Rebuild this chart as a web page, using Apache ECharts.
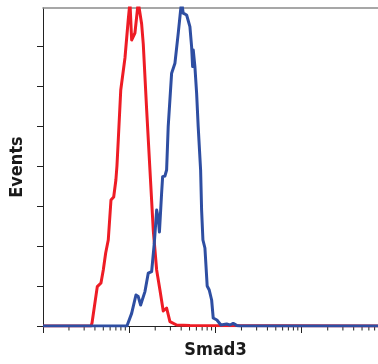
<!DOCTYPE html>
<html>
<head>
<meta charset="utf-8">
<script src="https://cdn.jsdelivr.net/npm/echarts@6/dist/echarts.min.js"></script>
<style>html,body{margin:0;padding:0;background:#fff}#c{width:378px;height:364px}</style>
</head>
<body>
<div id="c"></div>
<script>
// Axis titles
const xTitle = 'Smad3';
const yTitle = 'Events';

// Red histogram (control): fluorescence intensity and event counts
const redIntensity = [1, 3.6, 3.7, 4.26, 4.7, 5.0, 5.33, 5.71, 6.14, 6.6, 7.0, 7.2, 7.46, 7.97, 8.92, 9.73, 10.19, 10.66, 11.64, 12.71, 13.92, 14.54, 15.92, 17.38, 18.98, 20.78, 22.69, 24.78, 27.11, 29.63, 35.43, 50.5, 10000];
const redCounts    = [0, 0, 1.5, 19.7, 21.5, 28, 36.5, 43, 63, 64.5, 73, 80, 93, 118, 134, 153, 162, 143, 146.5, 162, 151, 141, 108, 78, 48, 28, 18, 7.5, 9, 2.2, 0.5, 0.2, 0];

// Blue histogram (Smad3 stained)
const blueIntensity = [1, 9.4, 10.66, 11.96, 12.71, 13.55, 15.21, 16.6, 18.18, 19.48, 20.78, 21.69, 22.39, 23.73, 24.38, 25.92, 27.11, 28.29, 30.99, 33.87, 36.99, 39.43, 40.51, 42.23, 46.27, 50.5, 52.84, 54.3, 55.2, 56.6, 57.7, 60.4, 63.0, 67.2, 69.0, 71.5, 75.4, 80.1, 84.6, 90.2, 94.1, 103.8, 115.5, 134.6, 146.9, 160.4, 175.7, 191.9, 10000];
const blueCounts    = [0, 0, 6.3, 15.5, 14.7, 10.5, 17.2, 26.4, 27.2, 41, 58, 54, 47, 66.5, 74.7, 75, 78, 99.7, 126.4, 131.4, 146.4, 158, 162, 156.4, 155.5, 149.7, 139.7, 129.7, 138, 138, 129.7, 116.4, 99.7, 78, 58, 43, 39, 20, 18, 13, 4, 3, 0.5, 1, 0.5, 1.3, 0.3, 0, 0];

// Tick values
const yTicks = [0, 20, 40, 60, 80, 100, 120, 140];
const xMinorTicks = [2,3,4,5,6,7,8,9, 20,30,40,50,60,70,80,90, 200,300,400,500,600,700,800,900, 2000,3000,4000,5000,6000,7000,8000,9000];

const zip = (a, b) => a.map((v, i) => [v, b[i]]);
const FONT = "'Liberation Sans Narrow', 'DejaVu Sans Condensed', 'Liberation Sans', sans-serif";

const chart = echarts.init(document.getElementById('c'), null, {renderer: 'canvas'});
chart.setOption({
  animation: false,
  backgroundColor: '#fff',
  grid: {left: 43, right: -10, top: 8, bottom: 38, containLabel: false, outerBoundsMode: 'none'},
  xAxis: [{
    type: 'log', logBase: 10, min: 1, max: 10000,
    name: xTitle, nameLocation: 'middle', nameGap: 15,
    nameTextStyle: {fontFamily: FONT, fontWeight: 'bold', fontSize: 18, color: '#1a1a1a'},
    axisLine: {show: true, lineStyle: {color: '#222', width: 1}},
    axisTick: {show: true, inside: false, length: 7, lineStyle: {color: '#222', width: 1}},
    axisLabel: {show: false},
    splitLine: {show: false}, minorTick: {show: false}
  }, {
    type: 'log', logBase: 10, min: 1, max: 10000, position: 'top',
    axisLine: {show: true, lineStyle: {color: '#8a8a8a', width: 1.6}},
    axisTick: {show: false}, axisLabel: {show: false}, splitLine: {show: false}
  }],
  yAxis: {
    type: 'value', min: 0, max: 159,
    name: yTitle, nameLocation: 'middle', nameGap: 17, nameRotate: 90,
    nameTextStyle: {fontFamily: FONT, fontWeight: 'bold', fontSize: 18, color: '#1a1a1a'},
    axisLine: {show: true, lineStyle: {color: '#222', width: 1}},
    axisTick: {show: true, inside: false, length: 6, customValues: yTicks, lineStyle: {color: '#222', width: 1}},
    axisLabel: {show: false},
    splitLine: {show: false}
  },
  series: [{
    type: 'custom', xAxisIndex: 0, silent: true, clip: false, z: 1,
    data: xMinorTicks.map(v => [v, 0]),
    renderItem: (params, api) => {
      const p = api.coord([api.value(0), 0]);
      return {type: 'line', shape: {x1: p[0], y1: p[1], x2: p[0], y2: p[1] + 4.5}, style: {stroke: '#222', lineWidth: 1}};
    }
  }, {
    type: 'line', name: 'Control', xAxisIndex: 0, data: zip(redIntensity, redCounts),
    showSymbol: false, symbol: 'none', smooth: false, z: 3,
    lineStyle: {color: '#ee1c25', width: 3, join: 'round'}
  }, {
    type: 'line', name: 'Smad3', xAxisIndex: 0, data: zip(blueIntensity, blueCounts),
    showSymbol: false, symbol: 'none', smooth: false, z: 4,
    lineStyle: {color: '#2e4ea2', width: 3, join: 'round'}
  }]
});
</script>
</body>
</html>
